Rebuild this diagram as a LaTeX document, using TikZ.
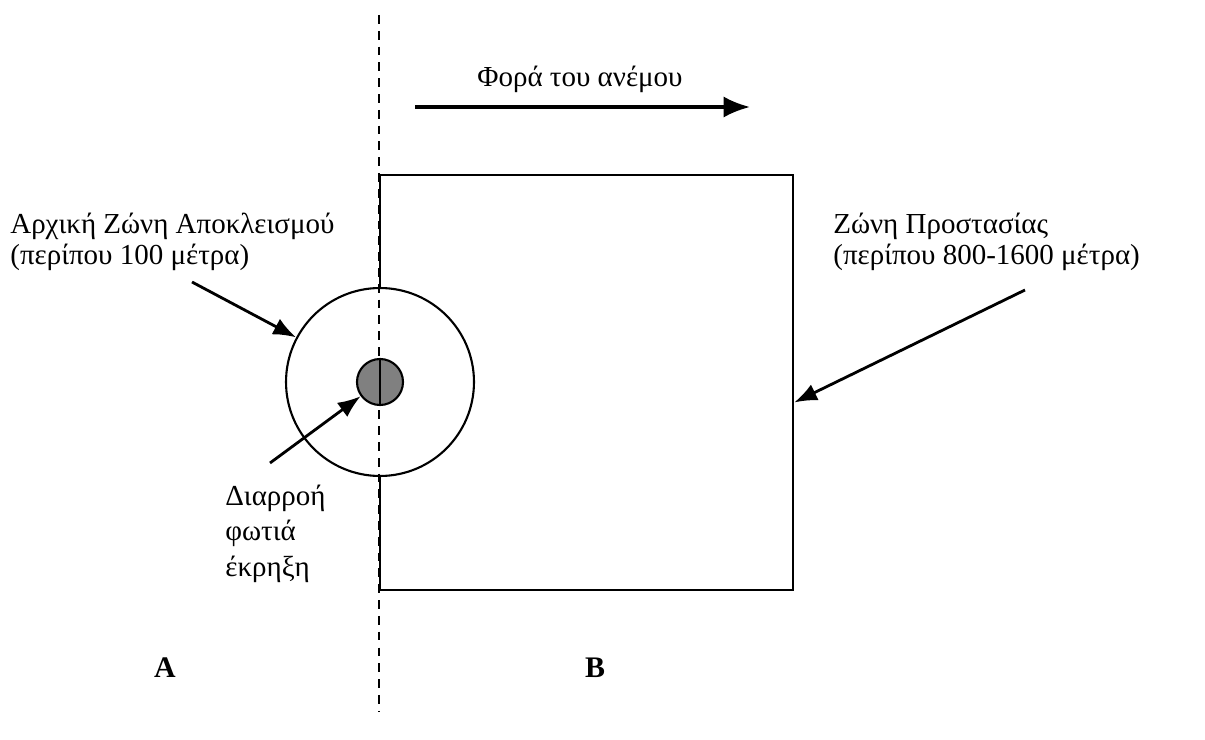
\documentclass[tikz,border=0pt]{standalone}
\usepackage{fontspec}
\setmainfont{Liberation Serif}
\usepackage{tikz}
\usetikzlibrary{arrows.meta,positioning,calc}
\definecolor{ZoneGray}{RGB}{128,128,128}
\tikzset{
  arr/.style={-{Latex[length=13pt,width=10pt]},black,line width=1.6pt},
  warr/.style={-{Latex[length=15pt,width=12pt]},black,line width=1.8pt},
  lbl/.style={anchor=north west,align=left,inner sep=0pt,font=\fontsize{16.5}{17.5}\selectfont},
  zone/.style={draw=black,line width=1.2pt,circle,inner sep=0pt},
}
\begin{document}
\begin{tikzpicture}[x=0.02cm,y=-0.02cm]
    \useasboundingbox (0,0) rectangle (1205,740);
    % zones
    \node[draw=black,line width=1.4pt,minimum width=8.26cm,minimum height=8.3cm,inner sep=0pt] (prot) at (586.5,382.5) {};
    \node[zone,fill=white,minimum size=3.76cm] (excl) at (380,382) {};
    \coordinate (top) at (379,15);
    \coordinate (bot) at (379,712);
    \draw[line width=1.3pt,dash pattern=on 5pt off 4pt] (top) -- (bot);
    \node[zone,fill=ZoneGray,minimum size=0.92cm] (src) at (380,382) {};
    \draw[line width=1.2pt] (src.north) -- (src.south);
    % wind
    \coordinate (w1) at (415,107);
    \coordinate (w2) at (750,107);
    \draw[warr] (w1) -- (w2);
    \node[font=\fontsize{16.5}{17.5}\selectfont] (wind) at (580,79) {Φορά του ανέμου};
    % labels
    \node[lbl] (exlbl) at (10,213) {Αρχική Ζώνη Αποκλεισμού\\(περίπου 100 μέτρα)};
    \node[lbl] (prlbl) at (833,213) {Ζώνη Προστασίας\\(περίπου 800-1600 μέτρα)};
    \node[lbl,font=\fontsize{16.5}{20}\selectfont] (srclbl) at (225,485) {Διαρροή\\φωτιά\\έκρηξη};
    \coordinate (a1) at (192,282);
    \coordinate (a2) at (1025,290);
    \coordinate (a3) at (270,463);
    \draw[arr] (a1) -- (excl);
    \draw[arr] (a2) -- ([yshift=-0.4cm]prot.east);
    \draw[arr] (a3) -- (src);
    % sides
    \node[font=\fontsize{17}{20}\bfseries] (sideA) at (165,668) {A};
    \node[font=\fontsize{17}{20}\bfseries] (sideB) at (595,668) {B};
\end{tikzpicture}
\end{document}
